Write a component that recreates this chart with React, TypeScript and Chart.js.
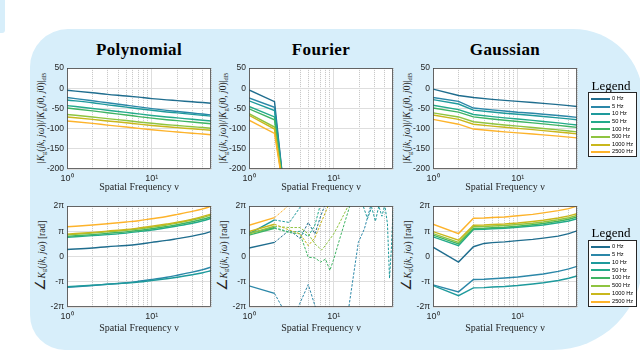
import React, { useEffect, useRef } from 'react';
import { Chart, registerables } from 'chart.js';

Chart.register(...registerables);

// ---------------- data ----------------
const SERIES_LABELS = ['0 Hz', '5 Hz', '10 Hz', '50 Hz', '100 Hz', '500 Hz', '1000 Hz', '2500 Hz'];
const SERIES_COLORS = ['#1f6d8e', '#2b87a8', '#1e9a9c', '#23aa8b', '#3eb463', '#8fc440', '#c9b71c', '#fdb32b'];

const X_TICKS = [1, 2, 3, 4, 5, 6, 7, 8, 9, 10, 20, 30, 40, 50];
const X_TICK_LABELS: Record<number, string> = { 1: '10\u2070', 10: '10\u00b9' };
const DB_TICKS = [-200, -150, -100, -50, 0, 50];
const PHASE_TICKS = [-2, -1, 0, 1, 2]; // multiples of pi
const PHASE_TICK_LABELS = ['-2\u03c0', '-\u03c0', '0', '\u03c0', '2\u03c0'];

// Polynomial
const POLY_X = [1, 2, 3, 5, 7, 10, 15, 20, 30, 40, 50];
const POLY_MAG = [
  [-5, -11, -15, -19, -22, -25.5, -28.7, -30.6, -33.5, -35.4, -37],
  [-23, -31, -36, -42, -46, -50.5, -54.8, -57.4, -61.3, -63.9, -66],
  [-29, -36, -41, -46.6, -50.6, -54.6, -58.6, -61, -64.6, -67, -69],
  [-43, -50, -54.4, -59.7, -63.5, -67.3, -71.1, -73.4, -76.8, -79.1, -81],
  [-49, -56, -60.7, -66.2, -70.1, -74, -77.9, -80.2, -83.7, -86, -88],
  [-65, -71, -75.2, -80, -83.4, -86.8, -90.2, -92.2, -95.3, -97.3, -99],
  [-71, -77, -80.9, -85.5, -88.8, -92.1, -95.4, -97.4, -100.4, -102.4, -104],
  [-81, -87, -91.2, -96, -99.4, -102.8, -106.2, -108.2, -111.3, -113.3, -115],
];
const POLY_PHASE = [
  [0.28, 0.34, 0.39, 0.44, 0.49, 0.56, 0.64, 0.71, 0.81, 0.9, 0.99],
  [-1.22, -1.15, -1.1, -1.04, -0.98, -0.91, -0.82, -0.74, -0.62, -0.52, -0.42],
  [-1.2, -1.14, -1.1, -1.05, -1.01, -0.95, -0.88, -0.82, -0.72, -0.64, -0.56],
  [0.76, 0.83, 0.87, 0.93, 0.99, 1.05, 1.14, 1.21, 1.32, 1.42, 1.51],
  [0.8, 0.87, 0.92, 0.98, 1.03, 1.1, 1.19, 1.26, 1.38, 1.48, 1.57],
  [0.86, 0.93, 0.98, 1.04, 1.09, 1.16, 1.25, 1.33, 1.45, 1.55, 1.64],
  [0.89, 0.96, 1.01, 1.07, 1.13, 1.2, 1.29, 1.36, 1.48, 1.59, 1.68],
  [1.18, 1.25, 1.3, 1.37, 1.42, 1.5, 1.59, 1.67, 1.79, 1.89, 1.99],
];

// Fourier
const FOURIER_X = [1, 2, 3];
const FOURIER_MAG = [
  [-4, -33, -380],
  [-24, -47, -370],
  [-31, -55, -370],
  [-45, -71, -360],
  [-51, -78, -360],
  [-63, -96, -350],
  [-67, -101, -350],
  [-79, -112, -345],
];
const FOURIER_PHASE_X = [
  [1, 2, 3, 4, 5, 6, 7, 8],
  [1, 2, 2.5, 3.75, 5, 6.2, 10, 15, 19.5, 23, 27.5],
  [1, 2, 3, 4.2, 20, 22, 25, 28, 31, 34, 37, 40, 43, 45.5, 48, 50],
  [1, 2, 3, 4, 5, 6, 7],
  [1, 2, 3, 4, 5, 6, 7, 8, 9, 10, 12, 15.6],
  [1, 2, 3, 4, 5, 6, 7.2, 8, 10, 12, 15],
  [1, 2, 3, 4, 5, 6, 7, 8.7],
  [1, 2, 3],
];
const FOURIER_PHASE = [
  [0.34, 0.56, 1.05, 0.72, 1.35, 0.9, 1.6, 2.1],
  [-1.16, -1.46, -2.05, -2.05, -1.11, -2.1, -2.6, -2.05, 0.56, 1.1, 2.05],
  [0.9, 1.45, 1.35, 2.05, 2.6, 2.05, 1.5, 1.95, 1.4, 2.0, 1.6, 2.05, 1.3, -0.86, 0.4, 1.8],
  [0.92, 1.15, 0.97, 1.0, 0.8, 1.25, 2.1],
  [0.85, 1.12, 0.95, 0.9, -0.03, -0.05, -0.22, -0.1, -0.55, -0.1, 0.8, 2.05],
  [0.9, 1.2, 1.15, 1.15, 0.9, 0.5, 0.26, 0.45, 0.9, 1.4, 2.05],
  [0.99, 1.28, 1.05, 0.9, 0.43, 0.75, 1.3, 2.05],
  [1.24, 1.54, 2.05],
];

// Gaussian
const GAUSS_X = [1, 2, 3, 5, 7, 10, 15, 20, 30, 40, 50];
const GAUSS_MAG = [
  [-2, -18, -23, -27.4, -30, -32.5, -35.3, -37.5, -40.6, -43, -45],
  [-23, -32.5, -49, -53.6, -56.4, -59.4, -61.9, -64.2, -67.4, -69.9, -72],
  [-28, -39, -54, -58.8, -61.7, -64.3, -67.4, -69.8, -73.2, -75.8, -78],
  [-42, -53, -65, -70.2, -73.3, -76.2, -79.6, -82.2, -85.8, -88.7, -91],
  [-49, -59, -71, -76.2, -79.3, -82.2, -85.6, -88.2, -91.8, -94.7, -97],
  [-61, -71, -83, -88, -91, -93.8, -97, -99.5, -103, -105.8, -108],
  [-66, -77, -89, -93.8, -96.7, -99.3, -102.4, -104.8, -108.2, -110.8, -113],
  [-77, -89, -101, -105.4, -108, -110.5, -113.3, -115.5, -118.6, -121, -123],
];
const GAUSS_PHASE_X = [1, 2, 3, 4, 5, 7, 10, 15, 20, 30, 40, 50];
const GAUSS_PHASE = [
  [0.37, -0.22, 0.39, 0.52, 0.55, 0.58, 0.63, 0.68, 0.73, 0.81, 0.91, 1.02],
  [-1.12, -1.4, -0.91, -0.9, -0.88, -0.85, -0.81, -0.74, -0.69, -0.59, -0.49, -0.39],
  [-1.15, -1.55, -1.24, -1.23, -1.21, -1.19, -1.15, -1.09, -1.04, -0.95, -0.86, -0.77],
  [0.78, 0.43, 1.07, 1.08, 1.1, 1.12, 1.16, 1.21, 1.25, 1.34, 1.41, 1.5],
  [0.85, 0.5, 1.11, 1.12, 1.14, 1.16, 1.2, 1.26, 1.31, 1.4, 1.48, 1.57],
  [0.91, 0.56, 1.18, 1.19, 1.21, 1.23, 1.27, 1.32, 1.37, 1.46, 1.54, 1.63],
  [0.99, 0.65, 1.24, 1.25, 1.27, 1.29, 1.33, 1.39, 1.44, 1.53, 1.61, 1.7],
  [1.28, 0.91, 1.52, 1.53, 1.55, 1.57, 1.62, 1.67, 1.73, 1.82, 1.9, 2.0],
];

// ---------------- styling ----------------
const FONT_SANS = '"Liberation Sans", Arial, Helvetica, sans-serif';
const FONT_SERIF = '"Liberation Serif", "Times New Roman", serif';
const PANEL_BG = '#d7eefa';
const TEXT = '#262626';
const Y_W = 36;
const PAD_T = 6;
const PAD_R = 6;

const framePlugin = {
  id: 'frame',
  beforeDraw(chart: any) {
    const { ctx, chartArea: a } = chart;
    ctx.save();
    ctx.fillStyle = '#ffffff';
    ctx.fillRect(a.left, a.top, a.right - a.left, a.bottom - a.top);
    ctx.restore();
  },
  afterDatasetsDraw(chart: any) {
    const { ctx, chartArea: a } = chart;
    ctx.save();
    ctx.strokeStyle = '#454545';
    ctx.lineWidth = 0.8;
    const l = Math.round(a.left) + 0.5;
    const t = Math.round(a.top) + 0.5;
    const r = Math.round(a.right) - 0.5;
    const b = Math.round(a.bottom) - 0.5;
    ctx.strokeRect(l, t, r - l, b - t);
    ctx.restore();
  },
};

type PlotProps = {
  left: number;
  top: number;
  width: number;
  height: number;
  kind: 'mag' | 'phase';
  xs: number[][];
  ys: number[][];
  smooth?: boolean;
  dashFrom?: number;
  titleGap: number;
};

function PlotChart(p: PlotProps) {
  const ref = useRef<HTMLCanvasElement>(null);
  const XH = p.titleGap + 8;
  const cw = Y_W + p.width + PAD_R;
  const ch = PAD_T + p.height + XH;

  useEffect(() => {
    const canvas = ref.current;
    if (!canvas) return;
    const isMajor = (v: number) => v === 1 || v === 10;
    const datasets = p.ys.map((ys, i) => {
      const xs = p.xs.length === 1 ? p.xs[0] : p.xs[i];
      const ds: any = {
        label: SERIES_LABELS[i],
        data: ys.map((y, j) => ({ x: xs[j], y })),
        borderColor: SERIES_COLORS[i],
        backgroundColor: SERIES_COLORS[i],
        borderWidth: 1.4,
        pointRadius: 0,
        fill: false,
        tension: 0,
        order: SERIES_LABELS.length - i,
      };
      if (p.smooth) ds.cubicInterpolationMode = 'monotone';
      if (p.dashFrom !== undefined) {
        const d = p.dashFrom;
        ds.segment = {
          borderDash: (c: any) => (c.p0.parsed.x >= d ? [2.5, 1.5] : undefined),
          borderWidth: (c: any) => (c.p0.parsed.x >= d ? 1 : 1.4),
        };
      }
      return ds;
    });
    const yMag = {
      type: 'linear',
      min: -200,
      max: 50,
      afterBuildTicks: (s: any) => {
        s.ticks = DB_TICKS.map((v) => ({ value: v }));
      },
      ticks: { callback: (v: any) => String(v) },
    };
    const yPhase = {
      type: 'linear',
      min: -2,
      max: 2,
      afterBuildTicks: (s: any) => {
        s.ticks = PHASE_TICKS.map((v) => ({ value: v }));
      },
      ticks: { callback: (v: any) => PHASE_TICK_LABELS[PHASE_TICKS.indexOf(v)] ?? '' },
    };
    const yBase: any = p.kind === 'mag' ? yMag : yPhase;
    const chart = new Chart(canvas, {
      type: 'line',
      data: { datasets },
      options: {
        responsive: false,
        maintainAspectRatio: false,
        animation: false,
        events: [],
        layout: { padding: { top: PAD_T, right: PAD_R, left: 0, bottom: 0 } },
        plugins: { legend: { display: false }, tooltip: { enabled: false }, title: { display: false } },
        scales: {
          x: {
            type: 'logarithmic',
            min: 1,
            max: 50,
            afterBuildTicks: (s: any) => {
              s.ticks = X_TICKS.map((v) => ({ value: v }));
            },
            afterFit: (s: any) => {
              s.height = XH;
            },
            ticks: {
              autoSkip: false,
              maxRotation: 0,
              minRotation: 0,
              padding: 4,
              font: { family: FONT_SANS, size: 9 },
              color: TEXT,
              callback: (v: any) => X_TICK_LABELS[v] ?? '',
            },
            grid: {
              drawTicks: false,
              lineWidth: 1,
              color: (c: any) => (c.tick && isMajor(c.tick.value) ? '#dedede' : '#c4c4c4'),
            },
            border: {
              display: false,
              dash: (c: any) => (c.tick && isMajor(c.tick.value) ? [] : [1, 1]),
            },
            title: {
              display: true,
              text: 'Spatial Frequency \u03bd',
              font: { family: FONT_SERIF, size: 10 },
              color: TEXT,
              padding: { top: 0, bottom: 2 },
            },
          },
          y: {
            ...yBase,
            afterFit: (s: any) => {
              s.width = Y_W;
            },
            ticks: {
              ...yBase.ticks,
              padding: 3,
              font: { family: FONT_SANS, size: 8.5 },
              color: TEXT,
            },
            grid: { drawTicks: false, color: '#dedede', lineWidth: 1 },
            border: { display: false },
          },
        },
      } as any,
      plugins: [framePlugin],
    });
    return () => chart.destroy();
  }, []);

  return (
    <canvas
      ref={ref}
      width={cw}
      height={ch}
      style={{ position: 'absolute', left: p.left - Y_W, top: p.top - PAD_T, width: cw, height: ch }}
    />
  );
}

function YTitle({ cx, cy, kind }: { cx: number; cy: number; kind: 'mag' | 'phase' }) {
  const sub = { fontSize: '70%', verticalAlign: '-0.25em', lineHeight: 0 } as React.CSSProperties;
  return (
    <div
      style={{
        position: 'absolute',
        left: cx,
        top: cy,
        transform: 'translate(-50%, -50%) rotate(-90deg)',
        whiteSpace: 'nowrap',
        font: `9.5px ${FONT_SERIF}`,
        color: TEXT,
        lineHeight: '12px',
      }}
    >
      {kind === 'mag' ? (
        <span>
          |<i>K</i>
          <span style={sub}>g</span>(<i>jk</i>, <i>j&omega;</i>)|/|<i>K</i>
          <span style={sub}>g</span>(<i>j</i>0, <i>j</i>0)|<span style={sub}>dB</span>
        </span>
      ) : (
        <span>
          <span style={{ fontSize: '14px' }}>&ang;</span>
          <i>K</i>
          <span style={sub}>g</span>(<i>jk</i>, <i>j&omega;</i>) [rad]
        </span>
      )}
    </div>
  );
}

function Legend({ boxTop, boxHeight, firstRow, step, titleY }: { boxTop: number; boxHeight: number; firstRow: number; step: number; titleY: number }) {
  return (
    <>
      <div
        style={{
          position: 'absolute',
          left: 611,
          top: titleY,
          transform: 'translate(-50%, -50%)',
          font: `13px ${FONT_SERIF}`,
          color: '#000',
          whiteSpace: 'nowrap',
          lineHeight: '14px',
        }}
      >
        Legend
      </div>
      <div
        style={{
          position: 'absolute',
          left: 588,
          top: boxTop,
          width: 49,
          height: boxHeight,
          boxSizing: 'border-box',
          border: '1px solid #262626',
          background: '#fff',
        }}
      >
        {SERIES_LABELS.map((lab, i) => (
          <div
            key={lab}
            style={{
              position: 'absolute',
              left: 2,
              top: firstRow - boxTop - 1 - step / 2 + i * step,
              height: step,
              display: 'flex',
              alignItems: 'center',
              whiteSpace: 'nowrap',
            }}
          >
            <div style={{ width: 19, height: 2, background: SERIES_COLORS[i] }} />
            <span style={{ marginLeft: 2, font: `5.7px ${FONT_SANS}`, color: '#000', lineHeight: `${step}px` }}>{lab}</span>
          </div>
        ))}
      </div>
    </>
  );
}

const COLS = [67, 249, 433];
const ROW_TOP = [66, 204];
const PW = 144;
const PH = 103;
const TITLES = ['Polynomial', 'Fourier', 'Gaussian'];

export default function App() {
  return (
    <div
      style={{
        position: 'fixed',
        left: 0,
        top: 0,
        width: 640,
        height: 351,
        background: '#fff',
        overflow: 'hidden',
        fontFamily: FONT_SERIF,
      }}
    >
      <div style={{ position: 'absolute', left: 0, top: 0, width: 5, height: 33, background: PANEL_BG, borderBottomRightRadius: 3 }} />
      <div
        style={{
          position: 'absolute',
          left: 30,
          top: 29,
          width: 613,
          height: 321,
          background: PANEL_BG,
          borderRadius: '38px 70px 90px 35px',
        }}
      />
      {TITLES.map((t, i) => (
        <div
          key={t}
          style={{
            position: 'absolute',
            left: COLS[i] + PW / 2,
            top: 41,
            transform: 'translateX(-50%)',
            font: `bold 17px ${FONT_SERIF}`,
            letterSpacing: '0.4px',
            lineHeight: '17px',
            color: '#000',
            whiteSpace: 'nowrap',
          }}
        >
          {t}
        </div>
      ))}
      {COLS.map((c) => (
        <YTitle key={'m' + c} cx={c - 26} cy={ROW_TOP[0] + PH / 2} kind="mag" />
      ))}
      {COLS.map((c) => (
        <YTitle key={'p' + c} cx={c - 26} cy={ROW_TOP[1] + PH / 2} kind="phase" />
      ))}

      <PlotChart left={COLS[0]} top={ROW_TOP[0]} width={PW} height={PH} kind="mag" xs={[POLY_X]} ys={POLY_MAG} smooth titleGap={18} />
      <PlotChart left={COLS[1]} top={ROW_TOP[0]} width={PW} height={PH} kind="mag" xs={[FOURIER_X]} ys={FOURIER_MAG} titleGap={18} />
      <PlotChart left={COLS[2]} top={ROW_TOP[0]} width={PW} height={PH} kind="mag" xs={[GAUSS_X]} ys={GAUSS_MAG} titleGap={18} />
      <PlotChart left={COLS[0]} top={ROW_TOP[1]} width={PW} height={PH} kind="phase" xs={[POLY_X]} ys={POLY_PHASE} smooth titleGap={21} />
      <PlotChart left={COLS[1]} top={ROW_TOP[1]} width={PW} height={PH} kind="phase" xs={FOURIER_PHASE_X} ys={FOURIER_PHASE} dashFrom={2} titleGap={21} />
      <PlotChart left={COLS[2]} top={ROW_TOP[1]} width={PW} height={PH} kind="phase" xs={[GAUSS_PHASE_X]} ys={GAUSS_PHASE} titleGap={21} />

      <Legend boxTop={92} boxHeight={65} firstRow={99} step={7.6} titleY={86} />
      <Legend boxTop={240} boxHeight={67} firstRow={247} step={7.8} titleY={233} />
    </div>
  );
}
